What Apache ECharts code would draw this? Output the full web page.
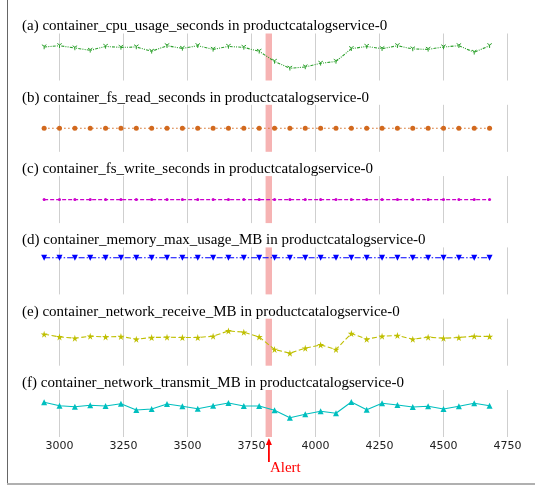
<!DOCTYPE html>
<html>
<head>
<meta charset="utf-8">
<script src="https://cdn.jsdelivr.net/npm/echarts@6/dist/echarts.min.js"></script>
<style>
  html, body { margin: 0; padding: 0; background: #fff; overflow: hidden; }
  #chart { position: absolute; left: -5px; top: 0; width: 540px; height: 489px; }
</style>
</head>
<body>
<div id="chart"></div>
<script>
// time stamps (s)
var times = [2940, 3000, 3060, 3120, 3180, 3240, 3300, 3360, 3420, 3480,
             3540, 3600, 3660, 3720, 3780, 3840, 3900, 3960, 4020, 4080,
             4140, 4200, 4260, 4320, 4380, 4440, 4500, 4560, 4620, 4680];

// normalised metric values (0..1 of each panel's height)
var cpuUsage = [0.713, 0.740, 0.692, 0.642, 0.725, 0.704, 0.713, 0.621, 0.740, 0.683,
                0.740, 0.663, 0.725, 0.704, 0.621, 0.406, 0.260, 0.288, 0.365, 0.406,
                0.677, 0.725, 0.677, 0.740, 0.671, 0.663, 0.713, 0.740, 0.600, 0.740];
var fsRead = [0.5, 0.5, 0.5, 0.5, 0.5, 0.5, 0.5, 0.5, 0.5, 0.5,
              0.5, 0.5, 0.5, 0.5, 0.5, 0.5, 0.5, 0.5, 0.5, 0.5,
              0.5, 0.5, 0.5, 0.5, 0.5, 0.5, 0.5, 0.5, 0.5, 0.5];
var fsWrite = [0.5, 0.5, 0.5, 0.5, 0.5, 0.5, 0.5, 0.5, 0.5, 0.5,
               0.5, 0.5, 0.5, 0.5, 0.5, 0.5, 0.5, 0.5, 0.5, 0.5,
               0.5, 0.5, 0.5, 0.5, 0.5, 0.5, 0.5, 0.5, 0.5, 0.5];
var memMax = [0.78, 0.78, 0.78, 0.78, 0.78, 0.78, 0.78, 0.78, 0.78, 0.78,
              0.78, 0.78, 0.78, 0.78, 0.78, 0.78, 0.78, 0.78, 0.78, 0.78,
              0.78, 0.78, 0.78, 0.78, 0.78, 0.78, 0.78, 0.78, 0.78, 0.78];
var netRecv = [0.670, 0.613, 0.585, 0.628, 0.613, 0.621, 0.564, 0.600, 0.606, 0.600,
               0.600, 0.628, 0.740, 0.713, 0.613, 0.345, 0.266, 0.372, 0.443, 0.345,
               0.685, 0.564, 0.628, 0.643, 0.564, 0.606, 0.585, 0.600, 0.628, 0.621];
var netTrans = [0.738, 0.666, 0.645, 0.674, 0.660, 0.709, 0.574, 0.596, 0.702, 0.653,
                0.602, 0.666, 0.723, 0.660, 0.660, 0.568, 0.411, 0.483, 0.547, 0.504,
                0.745, 0.581, 0.717, 0.681, 0.638, 0.653, 0.596, 0.653, 0.717, 0.666];

var titles = [
    '(a) container_cpu_usage_seconds in productcatalogservice-0',
    '(b) container_fs_read_seconds in productcatalogservice-0',
    '(c) container_fs_write_seconds in productcatalogservice-0',
    '(d) container_memory_max_usage_MB in productcatalogservice-0',
    '(e) container_network_receive_MB in productcatalogservice-0',
    '(f) container_network_transmit_MB in productcatalogservice-0'
];
var alertBand = [3805, 3830];
var alertAt = 3818;

var allValues = [cpuUsage, fsRead, fsWrite, memMax, netRecv, netTrans];

// the chart div sits 5px left of the page so the hidden 2750 grid line falls off screen
var shift = 5;

var triDown = 'path://M5,5L5,10M5,5L0.67,2.5M5,5L9.33,2.5';
var star = 'path://M50,0L61,35L98,35L68,57L79,91L50,70L21,91L32,57L2,35L39,35Z';

var looks = [
    { color: '#2ca02c', dash: [3, 1.2, 1, 1.2, 1, 1.2], symbol: triDown, size: 4.5, rotate: 0, stroke: true },
    { color: '#d2691e', dash: [1.5, 2.5], symbol: 'circle', size: 5, rotate: 0 },
    { color: '#cc00cc', dash: [4, 2], symbol: 'circle', size: 3, rotate: 0 },
    { color: '#0000ff', dash: [6, 2, 1.5, 2], symbol: 'triangle', size: 6, rotate: 180 },
    { color: '#bfbf00', dash: [5, 2.5], symbol: star, size: 7, rotate: 0 },
    { color: '#00bfbf', dash: 'solid', symbol: 'triangle', size: 6, rotate: 0 }
];

function pairs(vals) {
    var out = [];
    for (var i = 0; i < times.length; i++) out.push([times[i], vals[i]]);
    return out;
}

var grids = [], xAxes = [], yAxes = [], series = [], titleList = [];
for (var i = 0; i < 6; i++) {
    var gTop = 33.5 + i * 71.3;
    grids.push({ left: 0.5, right: 27.5, top: gTop, height: 47 });
    titleList.push({
        text: titles[i], left: 22 + shift, top: gTop - 14.5, padding: 0,
        textStyle: { fontFamily: 'Liberation Serif', fontSize: 15, fontWeight: 'normal', color: '#000' }
    });
    xAxes.push({
        type: 'value', gridIndex: i, min: 2750, max: 4750, interval: 250,
        axisLine: { show: false }, axisTick: { show: false },
        splitLine: { show: true, lineStyle: { color: '#cfcfcf', width: 1 } },
        axisLabel: {
            show: i === 5, showMinLabel: false, margin: 4,
            fontFamily: 'DejaVu Sans', fontSize: 11, color: '#222',
            formatter: function (v) { return String(v); }
        }
    });
    yAxes.push({ type: 'value', gridIndex: i, min: 0, max: 1, show: false, splitLine: { show: false } });
    var lk = looks[i];
    series.push({
        type: 'line', xAxisIndex: i, yAxisIndex: i,
        data: pairs(allValues[i]),
        symbol: lk.symbol, symbolSize: lk.size, symbolRotate: lk.rotate,
        showAllSymbol: true,
        lineStyle: { color: lk.color, width: 1.1, type: lk.dash },
        itemStyle: lk.stroke ? { color: '#fff', borderColor: lk.color, borderWidth: 1 } : { color: lk.color, borderWidth: 0 },
        markArea: {
            silent: true,
            itemStyle: { color: '#f6b3b3' },
            data: [[{ xAxis: alertBand[0] }, { xAxis: alertBand[1] }]]
        }
    });
}

var chart = echarts.init(document.getElementById('chart'));
chart.setOption({
    animation: false,
    title: titleList,
    grid: grids,
    xAxis: xAxes,
    yAxis: yAxes,
    series: series
});

var ax = chart.convertToPixel({ xAxisIndex: 5 }, alertAt);
chart.setOption({
    graphic: [
        { type: 'line', shape: { x1: 7.5 + shift, y1: 0, x2: 7.5 + shift, y2: 484 }, style: { stroke: '#666', lineWidth: 1 } },
        { type: 'line', shape: { x1: 7 + shift, y1: 484, x2: 540, y2: 484 }, style: { stroke: '#b0b0b0', lineWidth: 2 } },
        { type: 'line', shape: { x1: ax, y1: 462, x2: ax, y2: 444 }, style: { stroke: '#ff0000', lineWidth: 1.8 } },
        { type: 'polygon', shape: { points: [[ax, 438], [ax - 3, 445], [ax + 3, 445]] }, style: { fill: '#ff0000' } },
        { type: 'text', x: ax + 1, y: 468, style: {
            text: 'Alert', fill: '#ff0000', font: '15px "Liberation Serif"', verticalAlign: 'middle'
        } }
    ]
});
</script>
</body>
</html>
